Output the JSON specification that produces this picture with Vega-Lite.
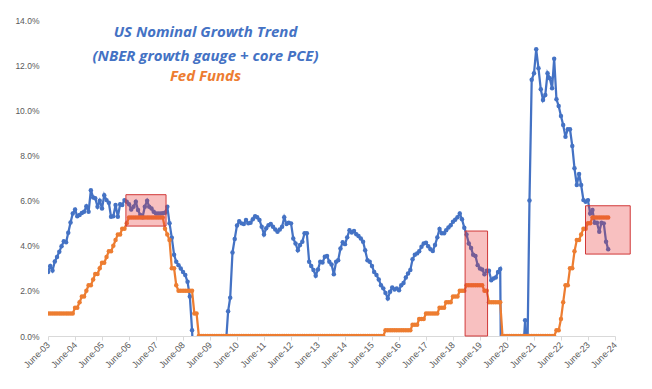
{
  "$schema": "https://vega.github.io/schema/vega-lite/v6.json",
  "width": 567,
  "height": 316,
  "autosize": "none",
  "padding": {"left": 48, "top": 20, "right": 37, "bottom": 53},
  "background": "white",
  "config": {"view": {"stroke": null}, "font": "Liberation Sans", "axis": {"labelOverlap": false}},
  "title": {
    "text": ["US Nominal Growth Trend", "(NBER growth gauge + core PCE)"],
    "subtitle": "Fed Funds",
    "anchor": "middle",
    "frame": "group",
    "dx": -126,
    "dy": 72,
    "font": "Open Sans",
    "fontSize": 15,
    "fontStyle": "italic",
    "fontWeight": "bold",
    "color": "#4472C4",
    "lineHeight": 24,
    "subtitleFont": "Open Sans",
    "subtitleFontSize": 15,
    "subtitleFontStyle": "italic",
    "subtitleFontWeight": "bold",
    "subtitleColor": "#ED7D31",
    "subtitleLineHeight": 20,
    "subtitlePadding": 5
  },
  "datasets": {
    "m": [
      {"d":"2003-06","g":2.84,"f":1},{"d":"2003-07","g":3.1,"f":1},{"d":"2003-08","g":2.9,"f":1},{"d":"2003-09","g":3.3,"f":1},{"d":"2003-10","g":3.5,"f":1},{"d":"2003-11","g":3.73,"f":1},{"d":"2003-12","g":3.98,"f":1},
      {"d":"2004-01","g":4.2,"f":1},{"d":"2004-02","g":4.15,"f":1},{"d":"2004-03","g":4.57,"f":1},{"d":"2004-04","g":5.03,"f":1},{"d":"2004-05","g":5.43,"f":1},{"d":"2004-06","g":5.6,"f":1.25},{"d":"2004-07","g":5.31,"f":1.25},{"d":"2004-08","g":5.36,"f":1.5},{"d":"2004-09","g":5.45,"f":1.75},{"d":"2004-10","g":5.5,"f":1.75},{"d":"2004-11","g":5.75,"f":2},{"d":"2004-12","g":5.5,"f":2.25},
      {"d":"2005-01","g":6.46,"f":2.25},{"d":"2005-02","g":6.14,"f":2.5},{"d":"2005-03","g":6.1,"f":2.75},{"d":"2005-04","g":5.73,"f":2.75},{"d":"2005-05","g":5.99,"f":3},{"d":"2005-06","g":5.65,"f":3.25},{"d":"2005-07","g":6.24,"f":3.25},{"d":"2005-08","g":6.02,"f":3.5},{"d":"2005-09","g":5.9,"f":3.75},{"d":"2005-10","g":5.28,"f":3.75},{"d":"2005-11","g":5.31,"f":4},{"d":"2005-12","g":5.8,"f":4.25},
      {"d":"2006-01","g":5.28,"f":4.5},{"d":"2006-02","g":5.84,"f":4.5},{"d":"2006-03","g":5.8,"f":4.75},{"d":"2006-04","g":6.02,"f":4.75},{"d":"2006-05","g":5.95,"f":5},{"d":"2006-06","g":5.84,"f":5.25},{"d":"2006-07","g":5.6,"f":5.25},{"d":"2006-08","g":5.73,"f":5.25},{"d":"2006-09","g":5.95,"f":5.25},{"d":"2006-10","g":5.58,"f":5.25},{"d":"2006-11","g":5.36,"f":5.25},{"d":"2006-12","g":5.26,"f":5.25},
      {"d":"2007-01","g":5.73,"f":5.25},{"d":"2007-02","g":5.99,"f":5.25},{"d":"2007-03","g":5.73,"f":5.25},{"d":"2007-04","g":5.65,"f":5.25},{"d":"2007-05","g":5.5,"f":5.25},{"d":"2007-06","g":5.43,"f":5.25},{"d":"2007-07","g":5.43,"f":5.25},{"d":"2007-08","g":5.43,"f":5.25},{"d":"2007-09","g":5.44,"f":5.25},{"d":"2007-10","g":5.46,"f":4.75},{"d":"2007-11","g":5.73,"f":4.5},{"d":"2007-12","g":5.0,"f":4.25},
      {"d":"2008-01","g":4.35,"f":3},{"d":"2008-02","g":3.6,"f":3},{"d":"2008-03","g":3.29,"f":2.25},{"d":"2008-04","g":3.14,"f":2},{"d":"2008-05","g":2.99,"f":2},{"d":"2008-06","g":2.84,"f":2},{"d":"2008-07","g":2.7,"f":2},{"d":"2008-08","g":2.4,"f":2},{"d":"2008-09","g":1.75,"f":2},{"d":"2008-10","g":0.26,"f":2},{"d":"2008-11","g":-2,"f":1},{"d":"2008-12","g":-3.5,"f":1},
      {"d":"2009-01","g":-5,"f":0},{"d":"2009-02","g":-6,"f":0},{"d":"2009-03","g":-6.5,"f":0},{"d":"2009-04","g":-6,"f":0},{"d":"2009-05","g":-5.5,"f":0},{"d":"2009-06","g":-5,"f":0},{"d":"2009-07","g":-4,"f":0},{"d":"2009-08","g":-3.5,"f":0},{"d":"2009-09","g":-3,"f":0},{"d":"2009-10","g":-2,"f":0},{"d":"2009-11","g":-1.5,"f":0},{"d":"2009-12","g":-1,"f":0},
      {"d":"2010-01","g":-0.4,"f":0},{"d":"2010-02","g":1.1,"f":0},{"d":"2010-03","g":1.7,"f":0},{"d":"2010-04","g":3.7,"f":0},{"d":"2010-05","g":4.3,"f":0},{"d":"2010-06","g":4.9,"f":0},{"d":"2010-07","g":5.09,"f":0},{"d":"2010-08","g":4.99,"f":0},{"d":"2010-09","g":4.96,"f":0},{"d":"2010-10","g":5.14,"f":0},{"d":"2010-11","g":4.99,"f":0},{"d":"2010-12","g":5.02,"f":0},
      {"d":"2011-01","g":5.17,"f":0},{"d":"2011-02","g":5.31,"f":0},{"d":"2011-03","g":5.26,"f":0},{"d":"2011-04","g":5.14,"f":0},{"d":"2011-05","g":4.84,"f":0},{"d":"2011-06","g":4.5,"f":0},{"d":"2011-07","g":4.77,"f":0},{"d":"2011-08","g":4.91,"f":0},{"d":"2011-09","g":4.96,"f":0},{"d":"2011-10","g":4.84,"f":0},{"d":"2011-11","g":4.72,"f":0},{"d":"2011-12","g":4.62,"f":0},
      {"d":"2012-01","g":4.72,"f":0},{"d":"2012-02","g":4.84,"f":0},{"d":"2012-03","g":5.26,"f":0},{"d":"2012-04","g":4.96,"f":0},{"d":"2012-05","g":5.02,"f":0},{"d":"2012-06","g":4.99,"f":0},{"d":"2012-07","g":4.32,"f":0},{"d":"2012-08","g":4.1,"f":0},{"d":"2012-09","g":3.8,"f":0},{"d":"2012-10","g":4.03,"f":0},{"d":"2012-11","g":4.18,"f":0},{"d":"2012-12","g":4.55,"f":0},
      {"d":"2013-01","g":4.55,"f":0},{"d":"2013-02","g":3.29,"f":0},{"d":"2013-03","g":3.1,"f":0},{"d":"2013-04","g":2.92,"f":0},{"d":"2013-05","g":2.67,"f":0},{"d":"2013-06","g":2.95,"f":0},{"d":"2013-07","g":3.29,"f":0},{"d":"2013-08","g":3.26,"f":0},{"d":"2013-09","g":3.51,"f":0},{"d":"2013-10","g":3.54,"f":0},{"d":"2013-11","g":3.29,"f":0},{"d":"2013-12","g":3.17,"f":0},
      {"d":"2014-01","g":2.74,"f":0},{"d":"2014-02","g":3.29,"f":0},{"d":"2014-03","g":3.36,"f":0},{"d":"2014-04","g":3.88,"f":0},{"d":"2014-05","g":4.15,"f":0},{"d":"2014-06","g":4.07,"f":0},{"d":"2014-07","g":4.37,"f":0},{"d":"2014-08","g":4.69,"f":0},{"d":"2014-09","g":4.59,"f":0},{"d":"2014-10","g":4.65,"f":0},{"d":"2014-11","g":4.51,"f":0},{"d":"2014-12","g":4.43,"f":0},
      {"d":"2015-01","g":4.32,"f":0},{"d":"2015-02","g":4.18,"f":0},{"d":"2015-03","g":3.8,"f":0},{"d":"2015-04","g":3.36,"f":0},{"d":"2015-05","g":3.29,"f":0},{"d":"2015-06","g":3.1,"f":0},{"d":"2015-07","g":2.84,"f":0},{"d":"2015-08","g":2.7,"f":0},{"d":"2015-09","g":2.5,"f":0},{"d":"2015-10","g":2.25,"f":0},{"d":"2015-11","g":2.11,"f":0},{"d":"2015-12","g":1.91,"f":0.25},
      {"d":"2016-01","g":1.66,"f":0.25},{"d":"2016-02","g":1.96,"f":0.25},{"d":"2016-03","g":2.15,"f":0.25},{"d":"2016-04","g":2.06,"f":0.25},{"d":"2016-05","g":2.11,"f":0.25},{"d":"2016-06","g":2.03,"f":0.25},{"d":"2016-07","g":2.25,"f":0.25},{"d":"2016-08","g":2.35,"f":0.25},{"d":"2016-09","g":2.59,"f":0.25},{"d":"2016-10","g":2.77,"f":0.25},{"d":"2016-11","g":2.92,"f":0.25},{"d":"2016-12","g":3.4,"f":0.5},
      {"d":"2017-01","g":3.6,"f":0.5},{"d":"2017-02","g":3.66,"f":0.5},{"d":"2017-03","g":3.75,"f":0.75},{"d":"2017-04","g":3.95,"f":0.75},{"d":"2017-05","g":4.1,"f":0.75},{"d":"2017-06","g":4.13,"f":1},{"d":"2017-07","g":3.98,"f":1},{"d":"2017-08","g":3.84,"f":1},{"d":"2017-09","g":3.77,"f":1},{"d":"2017-10","g":4.03,"f":1},{"d":"2017-11","g":4.37,"f":1},{"d":"2017-12","g":4.74,"f":1.25},
      {"d":"2018-01","g":4.55,"f":1.25},{"d":"2018-02","g":4.55,"f":1.25},{"d":"2018-03","g":4.69,"f":1.5},{"d":"2018-04","g":4.81,"f":1.5},{"d":"2018-05","g":4.91,"f":1.5},{"d":"2018-06","g":5.06,"f":1.75},{"d":"2018-07","g":5.15,"f":1.75},{"d":"2018-08","g":5.26,"f":1.75},{"d":"2018-09","g":5.43,"f":2},{"d":"2018-10","g":5.17,"f":2},{"d":"2018-11","g":4.8,"f":2},{"d":"2018-12","g":4.5,"f":2.25},
      {"d":"2019-01","g":4.1,"f":2.25},{"d":"2019-02","g":3.9,"f":2.25},{"d":"2019-03","g":3.6,"f":2.25},{"d":"2019-04","g":3.54,"f":2.25},{"d":"2019-05","g":3.14,"f":2.25},{"d":"2019-06","g":2.99,"f":2.25},{"d":"2019-07","g":2.95,"f":2.25},{"d":"2019-08","g":2.74,"f":2},{"d":"2019-09","g":2.89,"f":2},{"d":"2019-10","g":2.89,"f":1.5},{"d":"2019-11","g":2.47,"f":1.5},{"d":"2019-12","g":2.55,"f":1.5},
      {"d":"2020-01","g":2.59,"f":1.5},{"d":"2020-02","g":2.84,"f":1.5},{"d":"2020-03","g":2.97,"f":1.5},{"d":"2020-04","g":-10,"f":0},{"d":"2020-05","g":-8,"f":0},{"d":"2020-06","g":-6,"f":0},{"d":"2020-07","g":-5,"f":0},{"d":"2020-08","g":-4,"f":0},{"d":"2020-09","g":-3,"f":0},{"d":"2020-10","g":-2.5,"f":0},{"d":"2020-11","g":-2,"f":0},{"d":"2020-12","g":-1.5,"f":0},
      {"d":"2021-01","g":-1,"f":0},{"d":"2021-02","g":0.7,"f":0},{"d":"2021-03","g":-1.5,"f":0},{"d":"2021-04","g":6.0,"f":0},{"d":"2021-05","g":11.35,"f":0},{"d":"2021-06","g":11.64,"f":0},{"d":"2021-07","g":12.7,"f":0},{"d":"2021-08","g":11.86,"f":0},{"d":"2021-09","g":10.93,"f":0},{"d":"2021-10","g":10.46,"f":0},{"d":"2021-11","g":10.68,"f":0},{"d":"2021-12","g":11.64,"f":0},
      {"d":"2022-01","g":11.42,"f":0},{"d":"2022-02","g":10.98,"f":0},{"d":"2022-03","g":12.28,"f":0},{"d":"2022-04","g":10.49,"f":0.25},{"d":"2022-05","g":10.19,"f":0.25},{"d":"2022-06","g":9.75,"f":0.75},{"d":"2022-07","g":9.35,"f":1.5},{"d":"2022-08","g":8.83,"f":2.25},{"d":"2022-09","g":9.16,"f":2.25},{"d":"2022-10","g":9.16,"f":3},{"d":"2022-11","g":8.42,"f":3},{"d":"2022-12","g":7.43,"f":3.75},
      {"d":"2023-01","g":6.69,"f":4.25},{"d":"2023-02","g":7.18,"f":4.25},{"d":"2023-03","g":6.69,"f":4.5},{"d":"2023-04","g":6.02,"f":4.75},{"d":"2023-05","g":5.95,"f":4.75},{"d":"2023-06","g":6.02,"f":5},{"d":"2023-07","g":5.43,"f":5},{"d":"2023-08","g":5.58,"f":5.25},{"d":"2023-09","g":5.02,"f":5.25},{"d":"2023-10","g":5.02,"f":5.25},{"d":"2023-11","g":4.62,"f":5.25},{"d":"2023-12","g":5.02,"f":5.25},
      {"d":"2024-01","g":4.99,"f":5.25},{"d":"2024-02","g":4.18,"f":5.25},{"d":"2024-03","g":3.84,"f":5.25}
    ],
    "boxes": [
      {"x1":"2006-04-20","x2":"2007-10-15","y1":4.87,"y2":6.26},
      {"x1":"2018-11-12","x2":"2019-09-12","y1":0,"y2":4.65},
      {"x1":"2023-04-29","x2":"2024-12-24","y1":3.63,"y2":5.77}
    ]
  },
  "layer": [
    {
      "data": {"name": "m"},
      "mark": {"type": "line", "clip": true, "color": "#4472C4", "strokeWidth": 2.25},
      "encoding": {
        "x": {"field": "d", "type": "temporal",
          "scale": {"type": "utc", "domain": [{"year":2003,"month":6,"date":1,"utc":true},{"year":2024,"month":6,"date":1,"utc":true}]},
          "axis": {
            "values": [
              {"year":2003,"month":6,"date":1,"utc":true},{"year":2004,"month":6,"date":1,"utc":true},{"year":2005,"month":6,"date":1,"utc":true},{"year":2006,"month":6,"date":1,"utc":true},
              {"year":2007,"month":6,"date":1,"utc":true},{"year":2008,"month":6,"date":1,"utc":true},{"year":2009,"month":6,"date":1,"utc":true},{"year":2010,"month":6,"date":1,"utc":true},
              {"year":2011,"month":6,"date":1,"utc":true},{"year":2012,"month":6,"date":1,"utc":true},{"year":2013,"month":6,"date":1,"utc":true},{"year":2014,"month":6,"date":1,"utc":true},
              {"year":2015,"month":6,"date":1,"utc":true},{"year":2016,"month":6,"date":1,"utc":true},{"year":2017,"month":6,"date":1,"utc":true},{"year":2018,"month":6,"date":1,"utc":true},
              {"year":2019,"month":6,"date":1,"utc":true},{"year":2020,"month":6,"date":1,"utc":true},{"year":2021,"month":6,"date":1,"utc":true},{"year":2022,"month":6,"date":1,"utc":true},
              {"year":2023,"month":6,"date":1,"utc":true},{"year":2024,"month":6,"date":1,"utc":true}
            ],
            "tickCount": 40,
            "labelExpr": "utcFormat(datum.value, '%B-%y')",
            "labelAngle": -45,
            "labelAlign": "right",
            "labelBaseline": "middle",
            "labelOverlap": false,
            "labelFlush": false,
            "labelColor": "#595959",
            "labelFontSize": 9,
            "labelPadding": 3,
            "domainColor": "#D9D9D9",
            "tickColor": "#D9D9D9",
            "tickSize": 4,
            "grid": false,
            "title": null
          }
        },
        "y": {"field": "g", "type": "quantitative",
          "scale": {"domain": [0, 14], "nice": false},
          "axis": {
            "values": [0, 2, 4, 6, 8, 10, 12, 14],
            "labelExpr": "format(datum.value, '.1f') + '%'",
            "domain": false,
            "ticks": false,
            "grid": false,
            "labelColor": "#595959",
            "labelFontSize": 8.5,
            "labelPadding": 9,
            "title": null
          }
        }
      }
    },
    {
      "data": {"name": "m"},
      "mark": {"type": "point", "clip": true, "filled": true, "opacity": 1, "color": "#4472C4", "size": 20},
      "encoding": {
        "x": {"field": "d", "type": "temporal"},
        "y": {"field": "g", "type": "quantitative"}
      }
    },
    {
      "data": {"name": "m"},
      "mark": {"type": "line", "clip": true, "color": "#ED7D31", "strokeWidth": 2.25},
      "encoding": {
        "x": {"field": "d", "type": "temporal"},
        "y": {"field": "f", "type": "quantitative"}
      }
    },
    {
      "data": {"name": "m"},
      "mark": {"type": "point", "clip": true, "filled": true, "opacity": 1, "color": "#ED7D31", "size": 20},
      "encoding": {
        "x": {"field": "d", "type": "temporal"},
        "y": {"field": "f", "type": "quantitative"}
      }
    },
    {
      "data": {"name": "boxes"},
      "mark": {"type": "rect", "fill": "#E83030", "fillOpacity": 0.3, "stroke": "#D03838", "strokeWidth": 1},
      "encoding": {
        "x": {"field": "x1", "type": "temporal"},
        "x2": {"field": "x2"},
        "y": {"field": "y1", "type": "quantitative"},
        "y2": {"field": "y2"}
      }
    }
  ]
}
